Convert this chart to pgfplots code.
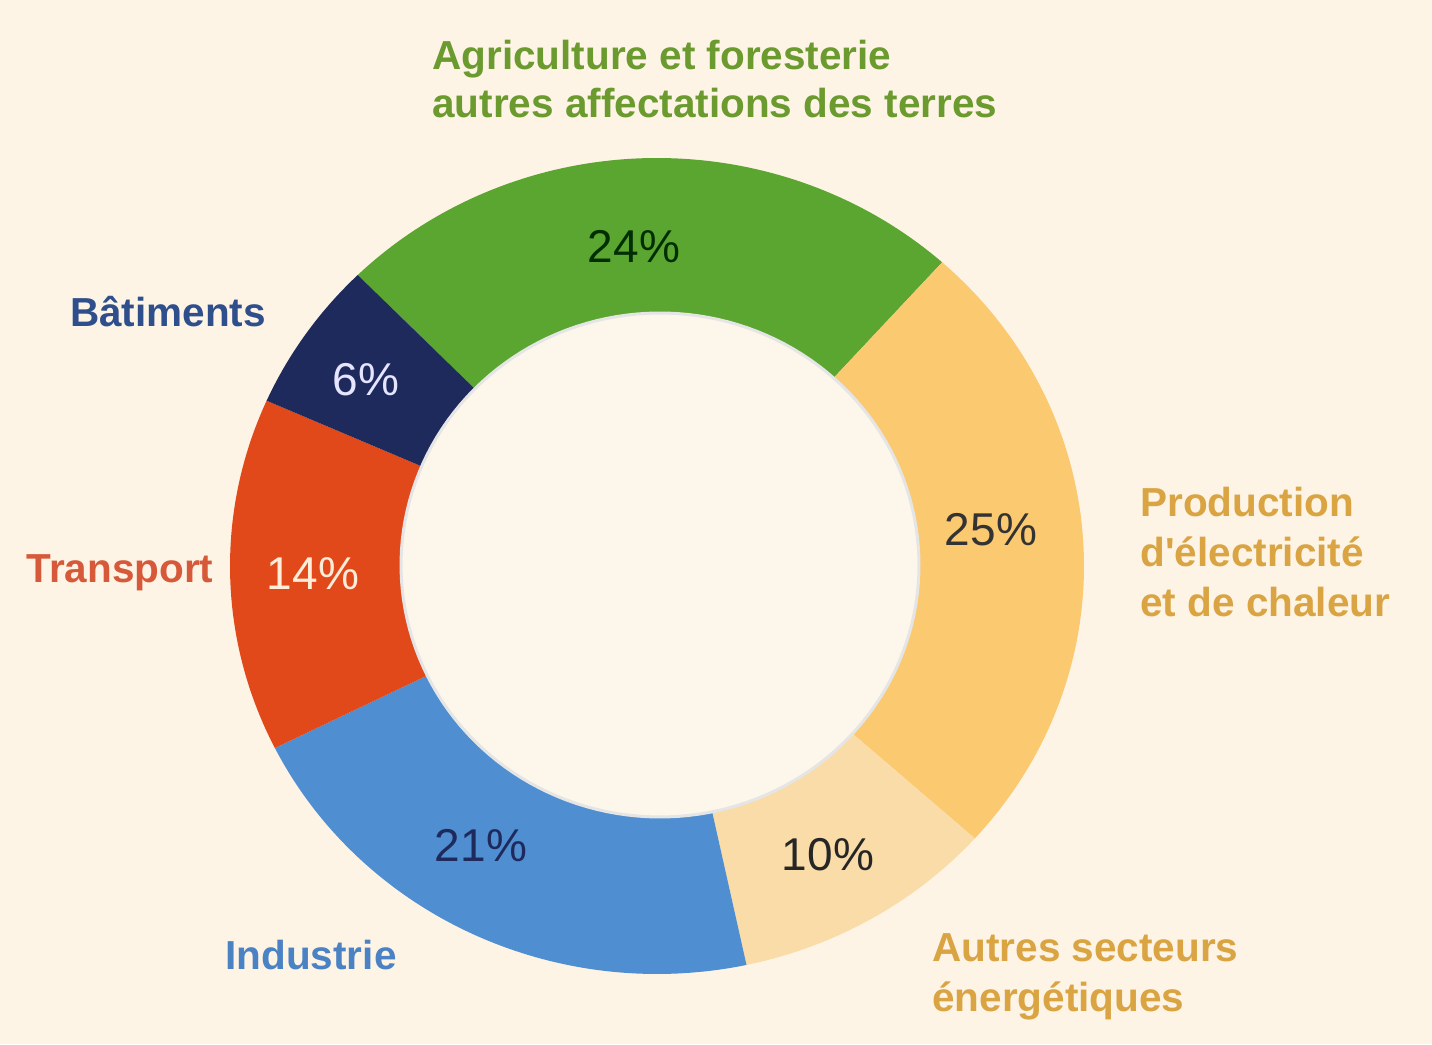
\documentclass[border=0pt]{standalone}
\usepackage{pgfplots}
\pgfplotsset{compat=1.18}
\usepackage{fontspec}
\setmainfont{Liberation Sans}
\definecolor{bg}{HTML}{FDF4E6}
\definecolor{inbg}{HTML}{FDF6EB}
\definecolor{cagri}{HTML}{5BA531}
\definecolor{cprod}{HTML}{FBC970}
\definecolor{cautre}{HTML}{FADCA8}
\definecolor{cind}{HTML}{4F8ED0}
\definecolor{ctrans}{HTML}{E1481A}
\definecolor{cbat}{HTML}{1F2A5C}
\definecolor{tagri}{HTML}{6B9B2F}
\definecolor{tbat}{HTML}{2F4E8C}
\definecolor{ttrans}{HTML}{D65A3A}
\definecolor{tind}{HTML}{4A82C4}
\definecolor{tprod}{HTML}{D9A441}
\begin{document}
\begin{tikzpicture}
\begin{axis}[hide axis, scale only axis, width=716pt, height=522pt,
  xmin=0, xmax=1432, ymin=0, ymax=1044, clip=false]
\fill[bg] (rel axis cs:0,0) rectangle (rel axis cs:1,1);
% sectors: cumulative percentages, clockwise from 134.5 degrees
% Agriculture 24, Production 25, Autres 10, Industrie 21, Transport 14, Batiments 6
\addplot[fill=cagri, draw=none, domain=0:24, samples=80, variable=\t]
  ({657+427*cos(134.5-3.6*\t)},{478+408*sin(134.5-3.6*\t)}) -- (axis cs:657,478) -- cycle;
\addplot[fill=cprod, draw=none, domain=24:49, samples=80, variable=\t]
  ({657+427*cos(134.5-3.6*\t)},{478+408*sin(134.5-3.6*\t)}) -- (axis cs:657,478) -- cycle;
\addplot[fill=cautre, draw=none, domain=49:59, samples=40, variable=\t]
  ({657+427*cos(134.5-3.6*\t)},{478+408*sin(134.5-3.6*\t)}) -- (axis cs:657,478) -- cycle;
\addplot[fill=cind, draw=none, domain=59:80, samples=80, variable=\t]
  ({657+427*cos(134.5-3.6*\t)},{478+408*sin(134.5-3.6*\t)}) -- (axis cs:657,478) -- cycle;
\addplot[fill=ctrans, draw=none, domain=80:94, samples=60, variable=\t]
  ({657+427*cos(134.5-3.6*\t)},{478+408*sin(134.5-3.6*\t)}) -- (axis cs:657,478) -- cycle;
\addplot[fill=cbat, draw=none, domain=94:100, samples=30, variable=\t]
  ({657+427*cos(134.5-3.6*\t)},{478+408*sin(134.5-3.6*\t)}) -- (axis cs:657,478) -- cycle;
% hole
\addplot[fill=inbg, draw=black!10, line width=1.5pt, domain=0:360, samples=160, variable=\t]
  ({660+259*cos(\t)},{479+252*sin(\t)}) -- cycle;
% percentages
\begin{scope}[every node/.style={font=\fontsize{23}{27}\selectfont, inner sep=0pt}]
\node[text=black!70!green!60!black] at (axis cs:634,797) {24\%};
\node[text=black!80] at (axis cs:991,514) {25\%};
\node[text=black!85] at (axis cs:828,189) {10\%};
\node[text=cbat] at (axis cs:481,198) {21\%};
\node[text=white!85!orange] at (axis cs:313,470) {14\%};
\node[text=white!90!blue] at (axis cs:366,664) {6\%};
\end{scope}
% category labels
\begin{scope}[every node/.style={font=\bfseries\fontsize{20.25}{24}\selectfont, inner sep=0pt, align=left}]
\node[text=tagri, anchor=west] at (axis cs:432,965) {Agriculture et foresterie\\autres affectations des terres};
\node[text=tbat] at (axis cs:168,732) {Bâtiments};
\node[text=ttrans] at (axis cs:120,471) {Transport};
\node[text=tind] at (axis cs:311,89) {Industrie};
\node[text=tprod, anchor=west, font=\bfseries\fontsize{20.25}{25}\selectfont] at (axis cs:1140,492) {Production\\d\textquotesingle électricité\\et de chaleur};
\node[text=tprod, anchor=west, font=\bfseries\fontsize{20.25}{25}\selectfont] at (axis cs:932,67) {Autres secteurs\\énergétiques};
\end{scope}
\end{axis}
\end{tikzpicture}
\end{document}
